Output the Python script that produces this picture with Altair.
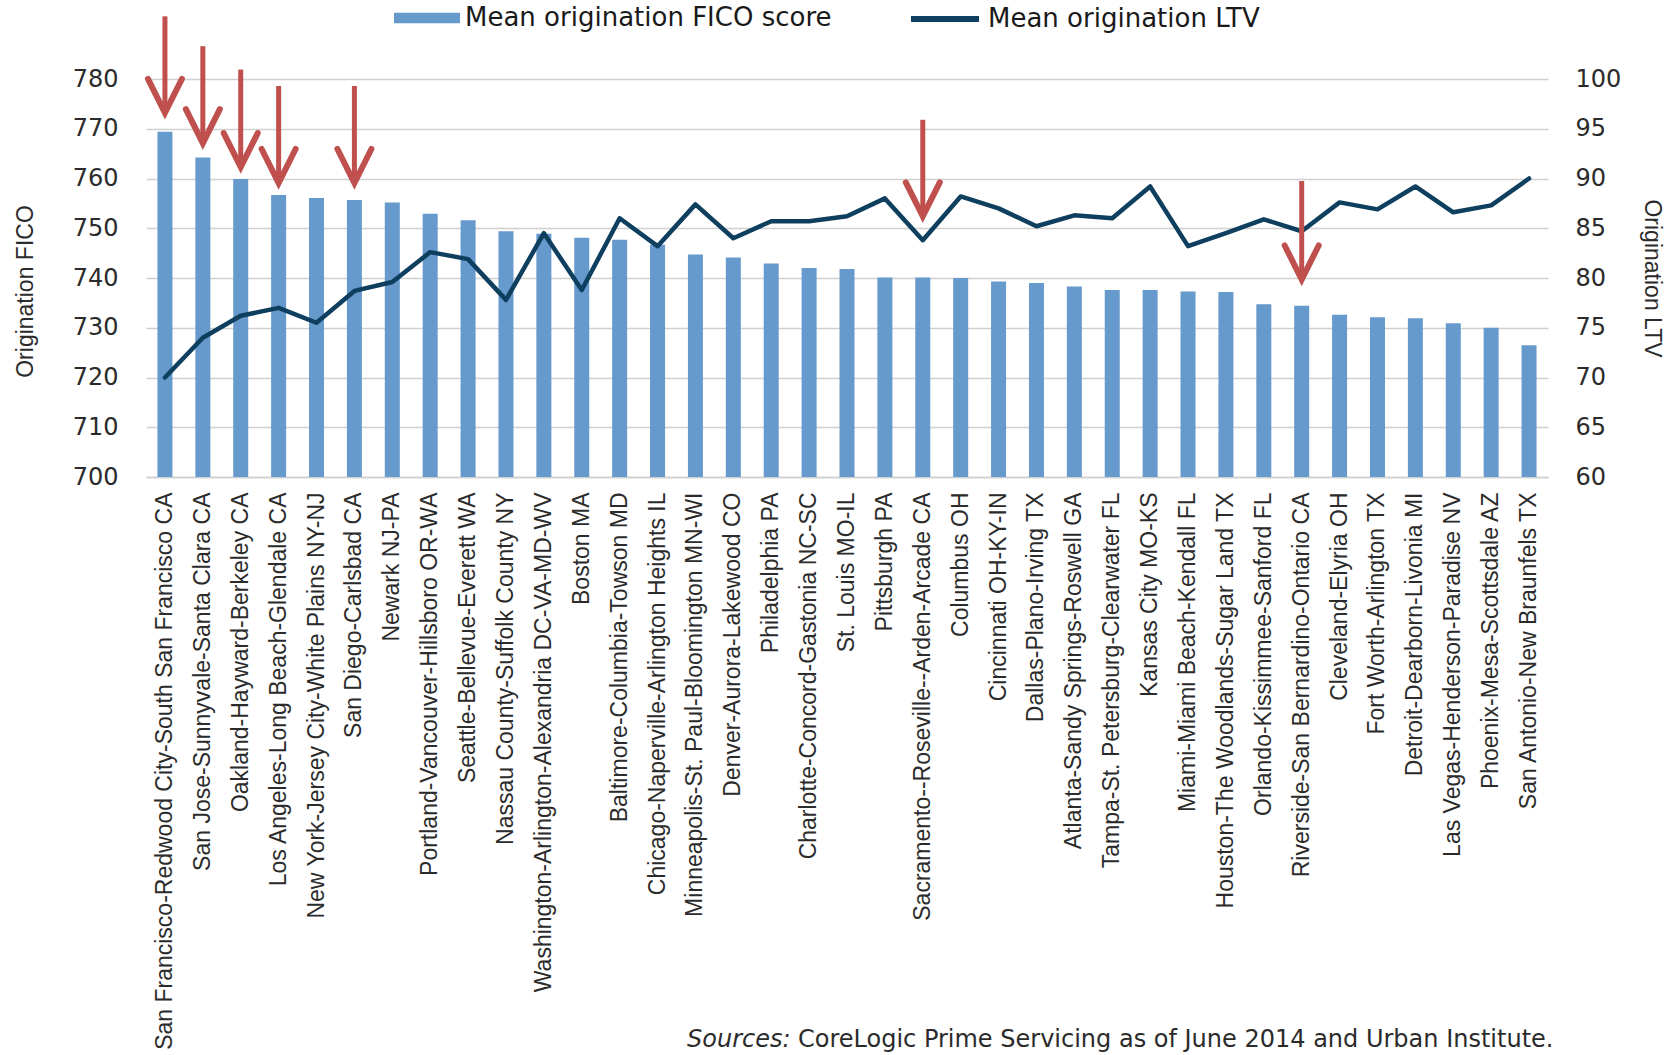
import altair as alt
import pandas as pd

# Metro areas, ordered by mean origination FICO score
cities = [
    "San Francisco-Redwood City-South San Francisco CA",
    "San Jose-Sunnyvale-Santa Clara CA",
    "Oakland-Hayward-Berkeley CA",
    "Los Angeles-Long Beach-Glendale CA",
    "New York-Jersey City-White Plains NY-NJ",
    "San Diego-Carlsbad CA",
    "Newark NJ-PA",
    "Portland-Vancouver-Hillsboro OR-WA",
    "Seattle-Bellevue-Everett WA",
    "Nassau County-Suffolk County NY",
    "Washington-Arlington-Alexandria DC-VA-MD-WV",
    "Boston MA",
    "Baltimore-Columbia-Towson MD",
    "Chicago-Naperville-Arlington Heights IL",
    "Minneapolis-St. Paul-Bloomington MN-WI",
    "Denver-Aurora-Lakewood CO",
    "Philadelphia PA",
    "Charlotte-Concord-Gastonia NC-SC",
    "St. Louis MO-IL",
    "Pittsburgh PA",
    "Sacramento--Roseville--Arden-Arcade CA",
    "Columbus OH",
    "Cincinnati OH-KY-IN",
    "Dallas-Plano-Irving TX",
    "Atlanta-Sandy Springs-Roswell GA",
    "Tampa-St. Petersburg-Clearwater FL",
    "Kansas City MO-KS",
    "Miami-Miami Beach-Kendall FL",
    "Houston-The Woodlands-Sugar Land TX",
    "Orlando-Kissimmee-Sanford FL",
    "Riverside-San Bernardino-Ontario CA",
    "Cleveland-Elyria OH",
    "Fort Worth-Arlington TX",
    "Detroit-Dearborn-Livonia MI",
    "Las Vegas-Henderson-Paradise NV",
    "Phoenix-Mesa-Scottsdale AZ",
    "San Antonio-New Braunfels TX",
]

# Mean origination FICO score (left axis)
fico = [769.4, 764.2, 759.9, 756.7, 756.1, 755.7, 755.2, 752.9, 751.6, 749.4,
        748.9, 748.1, 747.7, 746.7, 744.7, 744.1, 742.9, 742.0, 741.8, 740.1,
        740.1, 740.0, 739.3, 739.0, 738.3, 737.6, 737.6, 737.3, 737.2, 734.7,
        734.4, 732.6, 732.1, 731.9, 730.9, 730.0, 726.5]

# Mean origination LTV (right axis)
ltv = [70.0, 74.0, 76.2, 77.0, 75.5, 78.7, 79.6, 82.6, 81.9, 77.8,
       84.5, 78.8, 86.0, 83.2, 87.4, 84.0, 85.7, 85.7, 86.2, 88.0,
       83.8, 88.2, 87.0, 85.2, 86.3, 86.0, 89.2, 83.2, 84.5, 85.9,
       84.7, 87.6, 86.9, 89.2, 86.6, 87.3, 90.0]

# Highlight arrows (California metros), in FICO units
arrow_cities = [
    "San Francisco-Redwood City-South San Francisco CA",
    "San Jose-Sunnyvale-Santa Clara CA",
    "Oakland-Hayward-Berkeley CA",
    "Los Angeles-Long Beach-Glendale CA",
    "San Diego-Carlsbad CA",
    "Sacramento--Roseville--Arden-Arcade CA",
    "Riverside-San Bernardino-Ontario CA",
]
arrow_start = [792.6, 786.6, 781.9, 778.6, 778.6, 771.8, 759.5]
arrow_tip = [773.2, 767.1, 762.3, 759.1, 759.1, 752.4, 739.7]

fico_ticks = [700, 710, 720, 730, 740, 750, 760, 770, 780]
ltv_ticks = [60, 65, 70, 75, 80, 85, 90, 95, 100]

source_lead = "Sources:"
source_rest = "CoreLogic Prime Servicing as of June 2014 and Urban Institute."

df = pd.DataFrame({
    "city": cities,
    "fico": fico,
    "ltv": ltv,
    "fico_series": ["Mean origination FICO score"] * len(cities),
    "ltv_series": ["Mean origination LTV"] * len(cities),
})
arrows = pd.DataFrame({"city": arrow_cities, "start": arrow_start, "tip": arrow_tip})

GRID = "#D0D0D0"
TEXT = "#2b2b2b"
BAR = "#6699CC"
LINE = "#0F3F5F"
ARROW = "#C0504D"


def x_enc(centered=False):
    kw = dict(bandPosition=0.5) if centered else {}
    return alt.X(
        "city:N",
        scale=alt.Scale(domain=cities, paddingInner=0, paddingOuter=0),
        axis=alt.Axis(
            title=None, labelAngle=-90, labelFont="Liberation Sans",
            labelFontSize=23, labelColor=TEXT, labelPadding=15,
            labelLimit=800, labelOverlap=False, ticks=False,
            domainColor=GRID, domainWidth=1.5, grid=False,
        ),
        **kw,
    )


fico_domain = [700, 780]
fico_axis = alt.Axis(
    values=fico_ticks, grid=True, gridColor=GRID, gridWidth=1.5,
    ticks=False, domain=False, labelFont="DejaVu Sans", labelFontSize=24,
    labelColor=TEXT, labelPadding=28,
    title="Origination FICO", titleFont="Liberation Sans", titleFontSize=23,
    titleFontWeight="normal", titleColor=TEXT, titleAngle=270,
    titleAlign="center", titleBaseline="middle", titleX=-121, titleY=212,
)

# Bars start at the bottom of the FICO axis (700)
bars = alt.Chart(df).mark_bar(size=15).encode(
    x=x_enc(),
    y=alt.Y("fico:Q", scale=alt.Scale(domain=fico_domain, nice=False, zero=False),
            axis=fico_axis, title="Origination FICO"),
    y2=alt.Y2(datum=700),
    fill=alt.Fill(
        "fico_series:N",
        scale=alt.Scale(range=[BAR]),
        legend=alt.Legend(
            title=None, orient="none", legendX=248, legendY=-94, padding=0,
            symbolType="M-1,-0.16H1V0.16H-1Z", symbolSize=4356,
            symbolStrokeWidth=0, labelOffset=5, labelFont="DejaVu Sans",
            labelFontSize=26, labelColor="#1a1a1a", labelLimit=800,
        ),
    ),
)

footer_lead = alt.Chart(pd.DataFrame({"t": [source_lead]})).mark_text(
    align="left", baseline="middle", font="DejaVu Sans", fontSize=24,
    fontStyle="italic", color=TEXT,
).encode(text="t:N", x=alt.value(541), y=alt.value(961))

footer_rest = alt.Chart(pd.DataFrame({"t": [source_rest]})).mark_text(
    align="left", baseline="middle", font="DejaVu Sans", fontSize=24,
    color=TEXT,
).encode(text="t:N", x=alt.value(652), y=alt.value(961))

bar_layer = alt.layer(bars, footer_lead, footer_rest)

line = alt.Chart(df).mark_line(
    strokeWidth=4.5, strokeJoin="round", strokeCap="round",
).encode(
    x=x_enc(True),
    y=alt.Y(
        "ltv:Q",
        scale=alt.Scale(domain=[60, 100], nice=False, zero=False),
        axis=alt.Axis(
            orient="right", values=ltv_ticks, grid=False, ticks=False,
            domain=False, labelFont="DejaVu Sans", labelFontSize=24,
            labelColor=TEXT, labelPadding=27,
            title="Origination LTV", titleFont="Liberation Sans",
            titleFontSize=23, titleFontWeight="normal", titleColor=TEXT,
            titleAngle=90, titleAlign="center", titleBaseline="middle",
            titleX=103, titleY=199,
        ),
    ),
    stroke=alt.Stroke(
        "ltv_series:N",
        scale=alt.Scale(range=[LINE]),
        legend=alt.Legend(
            title=None, orient="none", legendX=762, legendY=-97, padding=0,
            symbolType="stroke", symbolSize=4624, symbolStrokeWidth=6,
            labelOffset=6, labelFont="DejaVu Sans", labelFontSize=26,
            labelColor="#1a1a1a", labelLimit=800,
        ),
    ),
)

# Arrows sit on top of everything, on the same FICO scale as the bars
arrow_scale = alt.Scale(domain=fico_domain, nice=False, zero=False)

shafts = alt.Chart(arrows).mark_rule(color=ARROW, strokeWidth=5).encode(
    x=x_enc(True),
    y=alt.Y("start:Q", scale=arrow_scale, axis=None),
    y2="tip:Q",
)

heads = alt.Chart(arrows).mark_point(
    shape="M-1,-1L0,1L1,-1", filled=False, color=ARROW, strokeWidth=6,
    size=1156, opacity=1, yOffset=-17, strokeJoin="miter", strokeCap="round",
).encode(
    x=x_enc(True),
    y=alt.Y("tip:Q", scale=arrow_scale, axis=None),
)

arrow_layer = alt.layer(shafts, heads)

chart = alt.layer(bar_layer, line, arrow_layer).resolve_scale(
    y="independent"
).properties(
    width=1402,
    height=398,
    autosize=alt.AutoSizeParams(type="none"),
    padding={"left": 146, "top": 79, "right": 129, "bottom": 578},
    background="white",
).configure_view(stroke=None)

chart.save("out.html", embed_options={"renderer": "svg", "actions": False})
